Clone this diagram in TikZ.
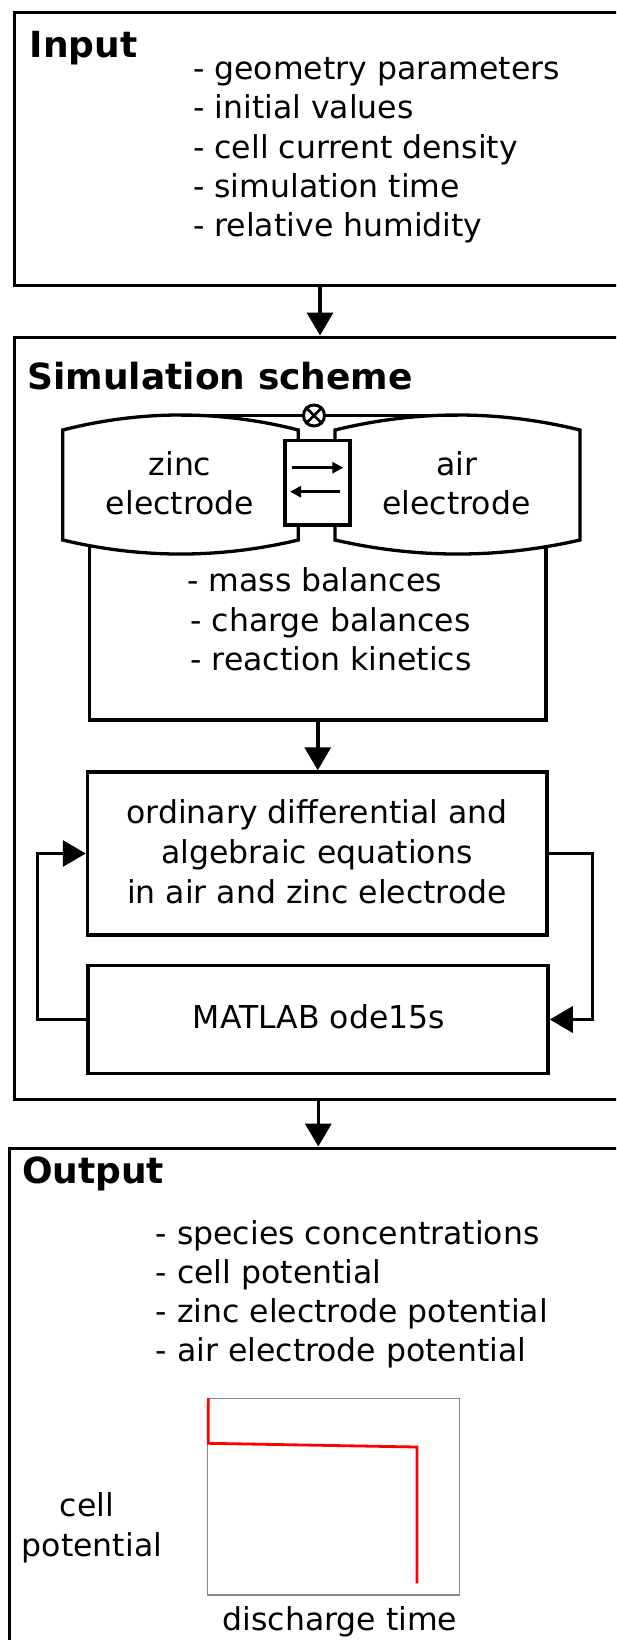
\documentclass[tikz,border=0pt]{standalone}
\usepackage{fontspec}
\setmainfont{DejaVu Sans}
\usetikzlibrary{arrows.meta}
\begin{document}
\begin{tikzpicture}[x=1pt,y=-1pt,
  box/.style={draw, line width=3.5pt, rectangle, inner sep=0pt},
  arr/.style={line width=3.5pt, -{Triangle[length=23pt,width=26pt]}},
  sarr/.style={line width=2.8pt, -{Triangle[length=11pt,width=11pt]}},
  txt/.style={inner sep=0pt, font=\fontsize{31.5pt}{39.3pt}\selectfont},
  head/.style={inner sep=0pt, font=\fontsize{36pt}{43pt}\selectfont\bfseries},
  elec/.style={draw, fill=white, line width=3.3pt, line join=miter}
]
\useasboundingbox (0,0) rectangle (616,1640);
\clip (0,0) rectangle (616,1640);

% main boxes
\node[box, minimum width=611pt, minimum height=273pt] (input) at (320,149) {};
\node[box, minimum width=611pt, minimum height=762pt] (sim) at (320,718.3) {};
\node[box, minimum width=618pt, minimum height=511.7pt] (output) at (318.5,1404.15) {};

% headings
\node[head, anchor=base west] (hin) at (29.7,58) {Input};
\node[head, anchor=base west] (hsim) at (27.3,389.3) {Simulation scheme};
\node[head, anchor=base west] (hout) at (21.8,1183.3) {Output};

% input list
\foreach \t [count=\i] in {geometry parameters, initial values, cell current density, simulation time, relative humidity}
  \node[txt, anchor=base west] (in\i) at (193,{79.5+39.3*(\i-1)}) {- \t};

% mass balance box (top hidden behind electrodes)
\node[box, minimum width=456.5pt, minimum height=240pt] (mass) at (317.75,600) {};

% electrodes
\path[elec] (62.7,430) .. controls (141.2,410) and (219.8,410) .. (298.3,430)
  -- (298.3,540) .. controls (219.8,558.7) and (141.2,558.7) .. (62.7,540) -- cycle;
\path[elec] (335,430) .. controls (416.7,410) and (498.3,410) .. (580,430)
  -- (580,540) .. controls (498.3,558.7) and (416.7,558.7) .. (335,540) -- cycle;
\node[txt, anchor=base] (z1) at (180,475) {zinc};
\node[txt, anchor=base] (z2) at (180,514) {electrode};
\node[txt, anchor=base] (a1) at (456.5,475) {air};
\node[txt, anchor=base] (a2) at (456.5,514.5) {electrode};

% wire with circle
\coordinate (wl) at (180.5,415);
\coordinate (wr) at (457.5,415);
\draw[line width=3pt] (wl) -- (wr);
\node[draw, circle, fill=white, line width=3pt, minimum size=21pt, inner sep=0pt] (cx) at (314,415.5) {};
\draw[line width=2.6pt] (cx.45) -- (cx.225) (cx.135) -- (cx.315);

% separator
\node[box, fill=white, line width=3.3pt, minimum width=65pt, minimum height=84.3pt] (sep) at (317.5,482.85) {};
\coordinate (r1) at (291.7,467.7);
\coordinate (r2) at (343.3,467.7);
\coordinate (l1) at (340,491.7);
\coordinate (l2) at (290,491.7);
\draw[sarr] (r1) -- (r2);
\draw[sarr] (l1) -- (l2);

% mass list
\node[txt, anchor=base west] (m1) at (187.2,591.7) {- mass balances};
\node[txt, anchor=base west] (m2) at (190.3,631) {- charge balances};
\node[txt, anchor=base west] (m3) at (190.3,670.3) {- reaction kinetics};

% ODE box and MATLAB box
\node[box, minimum width=459.5pt, minimum height=163pt] (ode) at (317.25,853.5) {};
\node[txt, anchor=base] (o1) at (317,823.3) {ordinary differential and};
\node[txt, anchor=base] (o2) at (317,863) {algebraic equations};
\node[txt, anchor=base] (o3) at (317,903) {in air and zinc electrode};
\node[box, minimum width=460pt, minimum height=107.6pt] (matlab) at (318,1019.5) {};
\node[txt, anchor=base] (mt) at (319,1028.3) {MATLAB ode15s};

% arrows
\coordinate (ax1) at (320,0);
\coordinate (ax2) at (318.3,0);
\draw[arr] (input.south -| ax1) -- (sim.north -| ax1);
\draw[arr] (mass.south) -- (mass.south |- ode.north);
\draw[arr] (sim.south -| ax2) -- (output.north -| ax2);
\coordinate (lx) at (37.3,0);
\coordinate (rx) at (592.7,0);
\draw[arr, line join=miter] (matlab.west) -- (matlab.west -| lx) -- (ode.west -| lx) -- (ode.west);
\draw[arr, line join=miter] (ode.east) -- (ode.east -| rx) -- (matlab.east -| rx) -- (matlab.east);

% output list
\foreach \t [count=\i] in {species concentrations, cell potential, zinc electrode potential, air electrode potential}
  \node[txt, anchor=base west] (out\i) at (155.6,{1244.5+39.1*(\i-1)}) {- \t};

% plot
\node[draw=black!47, line width=1.4pt, minimum width=251.8pt, minimum height=196.7pt, inner sep=0pt] (plot) at (333.4,1496.65) {};
\draw[red, line width=2.8pt] (208.3,1398.3) -- (208.3,1443.3) -- (416.9,1447) -- (416.9,1583.3);
\node[txt, anchor=base] (yl1) at (86.9,1516.7) {cell};
\node[txt, anchor=base] (yl2) at (92,1556.7) {potential};
\node[txt, anchor=base] (xl) at (340,1630) {discharge time};
\end{tikzpicture}
\end{document}
